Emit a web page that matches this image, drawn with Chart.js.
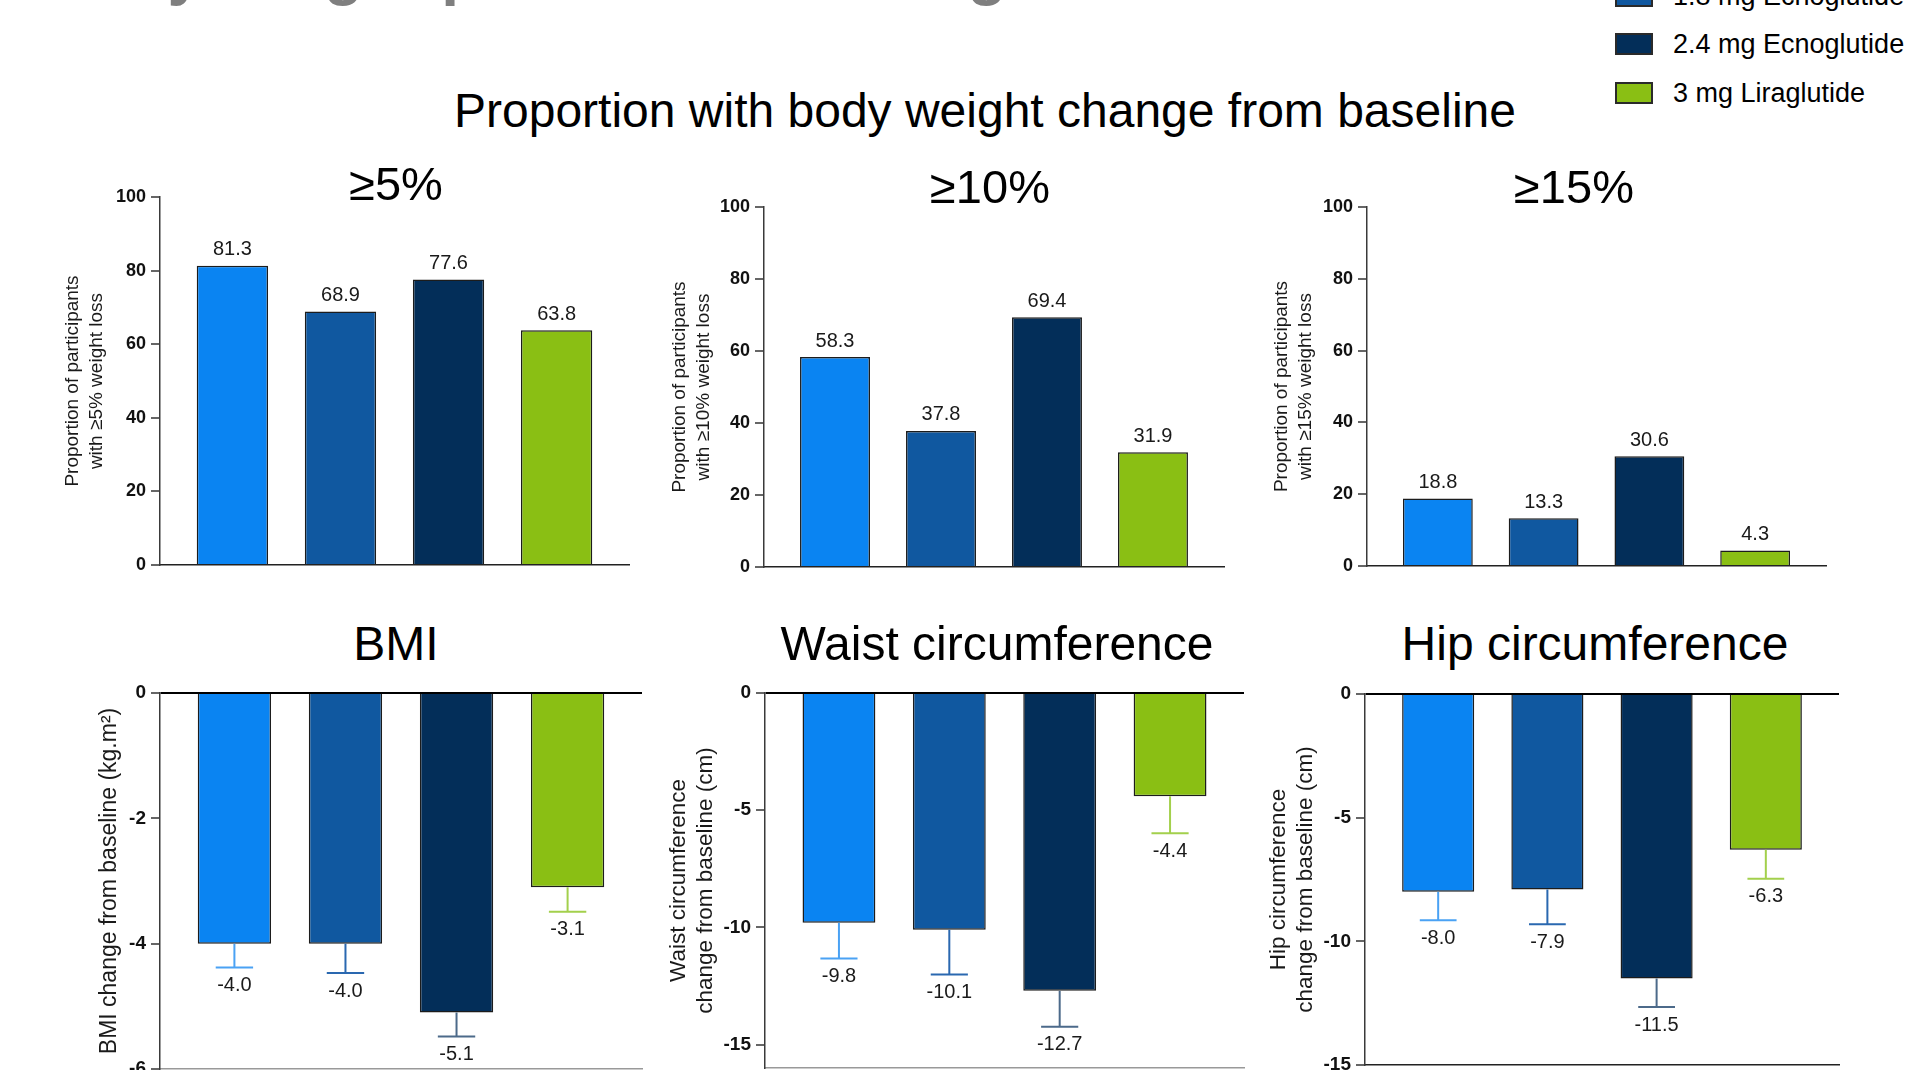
<!DOCTYPE html>
<html>
<head>
<meta charset="utf-8">
<title>Ecnoglutide vs liraglutide – body weight outcomes</title>
<script src="https://cdn.jsdelivr.net/npm/chart.js@4.4.1/dist/chart.umd.min.js"></script>
<style>
  html, body { margin: 0; padding: 0; background: #fff; }
  body { width: 1909px; height: 1070px; overflow: hidden; position: relative;
         font-family: 'Liberation Sans', Arial, sans-serif; }
  .txt { position: absolute; white-space: nowrap; line-height: 1; }
  .swatch { position: absolute; width: 38px; height: 22px; box-sizing: border-box; border: 2px solid #2a2a2a; }
  canvas { position: absolute; }
</style>
</head>
<body>
<script>
'use strict';

// treatment arms (legend + bar order)
var categories = ['1.2 mg Ecnoglutide', '1.8 mg Ecnoglutide', '2.4 mg Ecnoglutide', '3 mg Liraglutide'];
var barColors = ['#0a84f2', '#1058a0', '#032e59', '#8abf14'];
var errColors = ['#4aa2f4', '#2a68b0', '#4c6a8a', '#a3d04c'];

// proportion of participants with >=5 / 10 / 15 % weight loss
var loss5 = [81.3, 68.9, 77.6, 63.8];
var loss10 = [58.3, 37.8, 69.4, 31.9];
var loss15 = [18.8, 13.3, 30.6, 4.3];

// change from baseline, with error (downward) bar lengths
var bmiChange = [-4.0, -4.0, -5.1, -3.1];
var bmiErr = [0.38, 0.47, 0.38, 0.39];
var waistChange = [-9.8, -10.1, -12.7, -4.4];
var waistErr = [1.53, 1.91, 1.54, 1.58];
var hipChange = [-8.0, -7.9, -11.5, -6.3];
var hipErr = [1.15, 1.41, 1.16, 1.17];

// axis ticks and ranges
var pctTicks = [0, 20, 40, 60, 80, 100];
var pctRange = [0, 100];
var bmiTicks = [0, -2, -4, -6];
var bmiRange = [-6, 0];
var waistTicks = [0, -5, -10, -15];
var waistRange = [-16, 0];
var hipTicks = [0, -5, -10, -15];
var hipRange = [-15, 0];

var FONT = "'Liberation Sans', Arial, sans-serif";
Chart.defaults.font.family = FONT;

function placeText(str, x, baseline, size, opts) {
  opts = opts || {};
  var d = document.createElement('div');
  d.className = 'txt';
  d.textContent = str;
  d.style.fontSize = size + 'px';
  d.style.fontWeight = opts.weight || 'normal';
  d.style.color = opts.color || '#000';
  d.style.top = (baseline - 0.8465 * size) + 'px';
  d.style.left = x + 'px';
  if (opts.align === 'center') d.style.transform = 'translateX(-50%)';
  document.body.appendChild(d);
}

// slide header (cut off at the top of the picture)
placeText('Body weight parameters through week 40', 43, -7, 64, {weight: 'bold', color: '#7f7f7f'});
placeText('Proportion with body weight change from baseline', 985, 128, 48, {align: 'center'});

// legend
categories.forEach(function (name, i) {
  var cy = 44 + (i - 2) * 48.5;
  var sw = document.createElement('div');
  sw.className = 'swatch';
  sw.style.left = '1615px';
  sw.style.top = (cy - 11) + 'px';
  sw.style.background = barColors[i];
  document.body.appendChild(sw);
  placeText(name, 1673, cy + 10, 27);
});

var panels = [
  {values: loss5, errors: null, ticks: pctTicks, range: pctRange, title: '\u22655%', titleSize: 47,
   yTitle: ['Proportion of participants', 'with \u22655% weight loss'], yTitleSize: 19, yTitleLH: 1.263, tickSize: 18,
   left: 40, top: 170, axisX: 160, right: 629, chartTop: 197, chartBottom: 565,
   titleX: 396, titleBase: 200, yTitleX: 73, baseColor: '#222'},
  {values: loss10, errors: null, ticks: pctTicks, range: pctRange, title: '\u226510%', titleSize: 47,
   yTitle: ['Proportion of participants', 'with \u226510% weight loss'], yTitleSize: 19, yTitleLH: 1.263, tickSize: 18,
   left: 640, top: 180, axisX: 764, right: 1224, chartTop: 207, chartBottom: 567,
   titleX: 990, titleBase: 203, yTitleX: 680, baseColor: '#222'},
  {values: loss15, errors: null, ticks: pctTicks, range: pctRange, title: '\u226515%', titleSize: 47,
   yTitle: ['Proportion of participants', 'with \u226515% weight loss'], yTitleSize: 19, yTitleLH: 1.263, tickSize: 18,
   left: 1240, top: 180, axisX: 1367, right: 1826, chartTop: 207, chartBottom: 566,
   titleX: 1574, titleBase: 203, yTitleX: 1282, baseColor: '#222'},
  {values: bmiChange, errors: bmiErr, ticks: bmiTicks, range: bmiRange, title: 'BMI', titleSize: 48,
   yTitle: 'BMI change from baseline (kg.m\u00b2)', yTitleSize: 23, yTitleLH: 1.2, tickSize: 19,
   left: 40, top: 670, axisX: 160, right: 642, chartTop: 693, chartBottom: 1069,
   titleX: 396, titleBase: 661, yTitleX: 109.5, baseColor: '#999'},
  {values: waistChange, errors: waistErr, ticks: waistTicks, range: waistRange, title: 'Waist circumference', titleSize: 48,
   yTitle: ['Waist circumference', 'change from baseline (cm)'], yTitleSize: 22.5, yTitleLH: 1.19, tickSize: 19,
   left: 640, top: 670, axisX: 765, right: 1244, chartTop: 693, chartBottom: 1068,
   titleX: 997, titleBase: 661, yTitleX: 679, baseColor: '#999'},
  {values: hipChange, errors: hipErr, ticks: hipTicks, range: hipRange, title: 'Hip circumference', titleSize: 48,
   yTitle: ['Hip circumference', 'change from baseline (cm)'], yTitleSize: 22.5, yTitleLH: 1.19, tickSize: 19,
   left: 1240, top: 670, axisX: 1365, right: 1839, chartTop: 694, chartBottom: 1065,
   titleX: 1595, titleBase: 661, yTitleX: 1279, baseColor: '#222'}
];

function makePanel(p) {
  var negative = p.range[1] <= 0;
  var width = p.right + 12 - p.left;
  var height = p.chartBottom + 20 - p.top;
  var canvas = document.createElement('canvas');
  canvas.width = width;
  canvas.height = height;
  canvas.style.left = p.left + 'px';
  canvas.style.top = p.top + 'px';
  canvas.style.width = width + 'px';
  canvas.style.height = height + 'px';
  document.body.appendChild(canvas);

  placeText(p.title, p.titleX, p.titleBase, p.titleSize, {align: 'center'});

  var lineH = p.yTitleSize * p.yTitleLH;

  // error bars and value labels
  var annotate = {
    id: 'annotate',
    afterDatasetsDraw: function (chart) {
      var meta = chart.getDatasetMeta(0);
      var yScale = chart.scales.y;
      var ctx = chart.ctx;
      ctx.save();
      meta.data.forEach(function (bar, i) {
        var v = p.values[i];
        var labelY;
        if (p.errors) {
          var end = yScale.getPixelForValue(v - p.errors[i]);
          var half = bar.width * 0.255;
          ctx.strokeStyle = errColors[i];
          ctx.lineWidth = 2;
          ctx.beginPath();
          ctx.moveTo(bar.x, bar.y);
          ctx.lineTo(bar.x, end);
          ctx.moveTo(bar.x - half, end);
          ctx.lineTo(bar.x + half, end);
          ctx.stroke();
          labelY = end + 23.5;
        } else {
          labelY = bar.y - 10.5;
        }
        ctx.fillStyle = '#1a1a1a';
        ctx.font = '20px ' + FONT;
        ctx.textAlign = 'center';
        ctx.textBaseline = 'alphabetic';
        ctx.fillText(v.toFixed(1), bar.x, labelY);
      });
      ctx.restore();
    }
  };

  return new Chart(canvas.getContext('2d'), {
    type: 'bar',
    data: {
      datasets: [{
        data: p.values.map(function (v, i) { return {x: i + 1, y: v}; }),
        backgroundColor: barColors,
        borderColor: '#1c1c1c',
        borderWidth: 1.5,
        barPercentage: 0.66,
        categoryPercentage: 1
      }]
    },
    options: {
      responsive: false,
      animation: false,
      layout: {padding: {left: 0, top: p.chartTop - p.top, right: 12, bottom: 20}},
      plugins: {legend: {display: false}, tooltip: {enabled: false}, title: {display: false}},
      scales: {
        x: {
          type: 'linear',
          offset: false,
          min: 0.33,
          max: 4.67,
          afterBuildTicks: function (s) { s.ticks = categories.map(function (c, i) { return {value: i + 1}; }); },
          ticks: {display: false},
          grid: {display: false, drawTicks: false},
          border: {display: true, color: p.baseColor, width: 1.5, z: 1}
        },
        y: {
          min: p.range[0],
          max: p.range[1],
          afterBuildTicks: function (s) { s.ticks = p.ticks.map(function (v) { return {value: v}; }); },
          afterFit: function (s) { s.width = p.axisX - p.left; s.paddingTop = 0; s.paddingBottom = 0; },
          ticks: {font: {size: p.tickSize, weight: 'bold'}, color: '#111', padding: 5},
          grid: {
            z: 1,
            lineWidth: 2,
            color: function (c) { return (negative && c.tick && c.tick.value === 0) ? '#000' : 'rgba(0,0,0,0)'; },
            tickColor: '#333',
            tickWidth: 1.5,
            tickLength: 9
          },
          border: {display: true, color: '#3a3a3a', width: 1.5, z: 1},
          title: {
            display: true,
            text: p.yTitle,
            color: '#1a1a1a',
            font: {size: p.yTitleSize, lineHeight: p.yTitleLH},
            padding: {top: p.yTitleX - p.left - lineH / 2, bottom: 0}
          }
        }
      }
    },
    plugins: [annotate]
  });
}

panels.forEach(makePanel);
</script>
</body>
</html>
